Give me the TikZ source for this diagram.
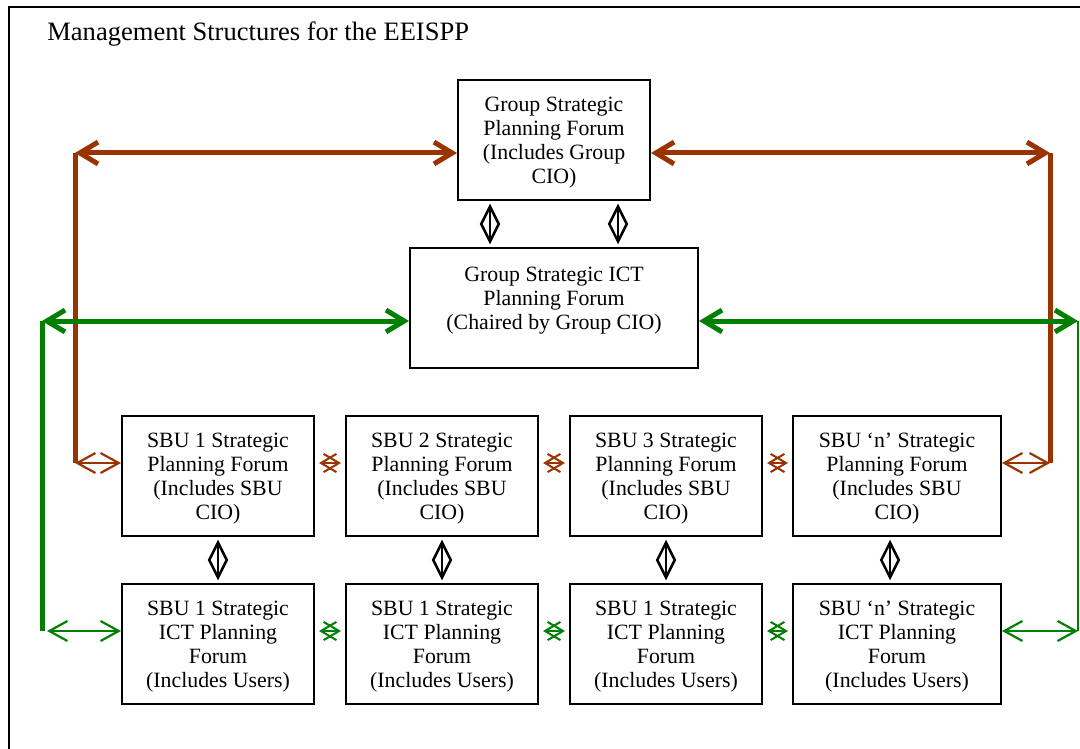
\documentclass[tikz,border=0pt]{standalone}
\usepackage{fontspec}
\setmainfont{Liberation Serif}
\usetikzlibrary{arrows.meta,calc}
\definecolor{forumbrown}{HTML}{993300}
\definecolor{forumgreen}{HTML}{008000}
\newcommand{\forumgap}{\rule{0pt}{10.9pt}}
\tikzset{
	forum/.style={draw, line width=1.1pt, align=center, inner sep=0pt,
		minimum width=105.6pt, minimum height=66pt, font=\fontsize{12}{13.2}\selectfont},
	bigbarb/.style={line width=2.75pt, >={Straight Barb[length=10pt,width=12pt]}, <->},
	sidebarb/.style={line width=1.2pt, >={Straight Barb[length=10pt,width=11pt]}, <->},
	crossbarb/.style={line width=1.1pt, >={Straight Barb[length=8.5pt,width=10pt]}, <->,
		shorten <=2.2pt, shorten >=2.2pt},
	updown/.style={line width=1.4pt, >={Straight Barb[length=10pt,width=10pt]}, <->,
		shorten <=1.5pt, shorten >=1.5pt}
}

\begin{document}
\begin{tikzpicture}[x=0.55pt, y=-0.55pt]
		%%%%% START %%%%%
		\useasboundingbox (0,0) rectangle (1080,749);
		
		\draw[line width=1.1pt] (9,749) -- (9,7) -- (1080,7);
		\node[anchor=west, inner sep=0pt, font=\fontsize{14.6}{16}\selectfont] (title) at (47,34) {Management Structures for the EEISPP};
		
		\node[forum] (gspf) at (554,140) {\forumgap Group Strategic\\Planning Forum\\(Includes Group\\CIO)};
		\node[forum, minimum width=158.4pt] (gsict) at (554,308) {\forumgap Group Strategic ICT\\Planning Forum\\(Chaired by Group CIO)\\ \mbox{}};
		
		\node[forum] (sbu1) at (218,476) {\forumgap SBU 1 Strategic\\Planning Forum\\(Includes SBU\\CIO)};
		\node[forum] (sbu2) at (442,476) {\forumgap SBU 2 Strategic\\Planning Forum\\(Includes SBU\\CIO)};
		\node[forum] (sbu3) at (666,476) {\forumgap SBU 3 Strategic\\Planning Forum\\(Includes SBU\\CIO)};
		\node[forum, minimum width=114.4pt] (sbun) at (897,476) {\forumgap SBU ‘n’ Strategic\\Planning Forum\\(Includes SBU\\CIO)};
		
		\node[forum] (ict1) at (218,644) {\forumgap SBU 1 Strategic\\ICT Planning\\Forum\\(Includes Users)};
		\node[forum] (ict2) at (442,644) {\forumgap SBU 1 Strategic\\ICT Planning\\Forum\\(Includes Users)};
		\node[forum] (ict3) at (666,644) {\forumgap SBU 1 Strategic\\ICT Planning\\Forum\\(Includes Users)};
		\node[forum, minimum width=114.4pt] (ictn) at (897,644) {\forumgap SBU ‘n’ Strategic\\ICT Planning\\Forum\\(Includes Users)};
		
		% corners of the outer loops
		\coordinate (btl) at (75,153);
		\coordinate (btr) at (1050,153);
		\coordinate (bbl) at (75,463);
		\coordinate (bbr) at (1050,463);
		\coordinate (gtl) at (42,321);
		\coordinate (gtr) at (1078,321);
		\coordinate (gbl) at (42,631);
		\coordinate (gbr) at (1078,631);
		
		% brown loop
		\draw[bigbarb, forumbrown] (btl) -- (btl -| gspf.west);
		\draw[bigbarb, forumbrown] (btr -| gspf.east) -- (btr);
		\draw[line width=2.75pt, forumbrown] (btl) -- (bbl);
		\draw[line width=2.75pt, forumbrown] (btr) -- (bbr);
		\draw[sidebarb, forumbrown] (bbl) -- (bbl -| sbu1.west);
		\draw[sidebarb, forumbrown] (bbr -| sbun.east) -- (bbr);
		\draw[crossbarb, forumbrown] (bbl -| sbu1.east) -- (bbl -| sbu2.west);
		\draw[crossbarb, forumbrown] (bbl -| sbu2.east) -- (bbl -| sbu3.west);
		\draw[crossbarb, forumbrown] (bbl -| sbu3.east) -- (bbl -| sbun.west);
		
		% green loop
		\draw[bigbarb, forumgreen] (gtl) -- (gtl -| gsict.west);
		\draw[bigbarb, forumgreen] (gtr -| gsict.east) -- (gtr);
		\draw[line width=2.75pt, forumgreen] (gtl) -- (gbl);
		\draw[line width=0.6pt, forumgreen] (gtr) -- (gbr);
		\draw[sidebarb, forumgreen] ($(gbl)+(5,0)$) -- (gbl -| ict1.west);
		\draw[sidebarb, forumgreen] (gbr -| ictn.east) -- (gbr);
		\draw[crossbarb, forumgreen] (gbl -| ict1.east) -- (gbl -| ict2.west);
		\draw[crossbarb, forumgreen] (gbl -| ict2.east) -- (gbl -| ict3.west);
		\draw[crossbarb, forumgreen] (gbl -| ict3.east) -- (gbl -| ictn.west);
		
		% black links
		\draw[updown] ([xshift=-35.2pt]gspf.south) -- ([xshift=-35.2pt]gspf.south |- gsict.north);
		\draw[updown] ([xshift=35.2pt]gspf.south) -- ([xshift=35.2pt]gspf.south |- gsict.north);
		\draw[updown] (sbu1) -- (ict1);
		\draw[updown] (sbu2) -- (ict2);
		\draw[updown] (sbu3) -- (ict3);
		\draw[updown] ([xshift=-3.85pt]sbun.south) -- ([xshift=-3.85pt]ictn.north);
		
		%%%%% END %%%%%
	\end{tikzpicture}
\end{document}
